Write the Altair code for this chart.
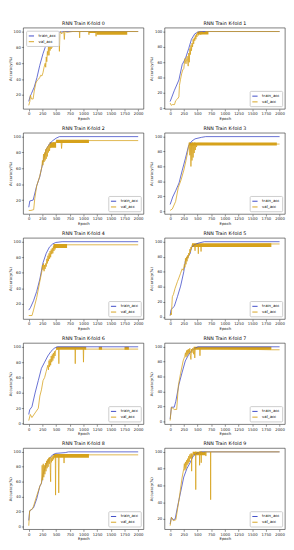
import altair as alt
import pandas as pd

# ---------------- data ----------------
tr0_x = [0, 25, 50, 100, 150, 200, 260, 300, 363, 430, 478, 550, 650, 2000]
tr0_y = [12, 18, 22, 30, 42, 57, 72, 80, 86, 92, 97, 99, 100, 100]
va0_x = [0, 20, 30, 50, 80, 100, 130, 150, 180, 200,
         220, 240, 260, 280, 300, 310, 320, 330, 340, 350,
         360, 370, 380, 390, 400, 410, 420, 430, 440, 450,
         460, 470, 480, 490, 500, 510, 520, 530, 540, 550,
         560, 570, 580, 600, 640, 650, 660, 700, 800, 900,
         925, 930, 935, 1000, 1095, 1100, 1105, 1200, 1225, 1230,
         1235, 1800, 2000]
va0_y = [7, 12, 20, 15, 15, 25, 35, 38, 40, 42,
         45, 44, 48, 55, 60, 55, 68, 62, 75, 70,
         82, 70, 86, 76, 88, 78, 92, 80, 93, 82,
         95, 85, 96, 88, 97, 92, 98, 95, 99, 96,
         75, 98, 100, 97, 100, 90, 100, 99, 100, 100,
         100, 92, 100, 100, 100, 96, 100, 100, 100, 94,
         100, 100, 100]
bd0 = [[1100, 1240, 98, 100], [1240, 1800, 96, 100]]

tr1_x = [0, 75, 160, 220, 280, 340, 390, 450, 500, 550, 2000]
tr1_y = [9, 23, 37, 57, 65, 78, 90, 97, 99, 100, 100]
va1_x = [0, 20, 40, 80, 100, 130, 160, 170, 190, 210,
         230, 250, 270, 290, 310, 330, 340, 350, 360, 370,
         380, 390, 400, 410, 420, 430, 440, 450, 460, 470,
         480, 490, 500, 520, 540, 560, 580, 600, 650, 700,
         2000]
va1_y = [7, 4, 5, 5, 10, 12, 15, 30, 38, 45,
         50, 52, 65, 58, 68, 55, 72, 60, 78, 70,
         82, 75, 85, 80, 90, 84, 92, 88, 95, 90,
         97, 93, 99, 95, 100, 96, 100, 97, 100, 100,
         100]
bd1 = [[500, 700, 96, 100]]

tr2_x = [0, 20, 80, 145, 200, 260, 320, 380, 440, 500, 560, 2000]
tr2_y = [11, 19, 20, 38, 49, 68, 84, 91, 95, 98, 100, 100]
va2_x = [0, 40, 90, 110, 145, 200, 240, 250, 260, 270,
         280, 290, 300, 310, 320, 330, 340, 350, 360, 370,
         380, 390, 400, 420, 440, 460, 480, 500, 590, 600,
         610, 1100, 2000]
va2_y = [7, 7, 8, 22, 38, 50, 62, 70, 64, 78,
         68, 80, 70, 84, 72, 86, 75, 88, 80, 90,
         82, 90, 86, 92, 88, 93, 90, 94, 94, 85,
         94, 95, 95]
bd2 = [[380, 500, 86, 93], [500, 1100, 92, 96]]

tr3_x = [0, 47, 105, 163, 222, 280, 338, 397, 455, 570, 650, 2000]
tr3_y = [9, 19, 28, 38, 55, 71, 88, 94, 97, 99, 100, 100]
va3_x = [0, 40, 100, 150, 200, 250, 290, 320, 340, 350,
         360, 370, 380, 390, 400, 410, 420, 430, 440, 450,
         460, 470, 480, 500, 1950, 2000]
va3_y = [1, 3, 13, 32, 42, 55, 68, 79, 88, 92,
         75, 91, 60, 90, 68, 92, 72, 90, 78, 92,
         82, 91, 86, 91, 90, 90]
bd3 = [[350, 1950, 88, 92]]

tr4_x = [0, 30, 87, 145, 203, 261, 319, 377, 435, 493, 610, 2000]
tr4_y = [12, 15, 24, 36, 52, 73, 85, 93, 97, 99, 100, 100]
va4_x = [0, 60, 87, 145, 200, 240, 250, 260, 270, 280,
         290, 300, 310, 320, 330, 340, 350, 360, 370, 380,
         390, 400, 410, 420, 430, 440, 450, 460, 470, 480,
         490, 500, 700, 2000]
va4_y = [5, 5, 12, 28, 48, 62, 70, 64, 72, 62,
         70, 65, 72, 68, 78, 72, 82, 75, 85, 78,
         88, 80, 90, 84, 92, 85, 94, 88, 95, 90,
         96, 93, 96, 96]
bd4 = [[450, 700, 92, 97]]

tr5_x = [0, 17, 75, 133, 191, 249, 277, 306, 364, 393, 451, 509, 624, 2000]
tr5_y = [2, 10, 14, 27, 41, 60, 74, 78, 84, 93, 96, 98, 100, 100]
va5_x = [0, 15, 23, 40, 60, 90, 133, 160, 190, 220,
         240, 260, 270, 280, 290, 300, 310, 320, 330, 340,
         350, 360, 370, 380, 390, 400, 450, 455, 460, 510,
         515, 520, 560, 565, 570, 1850, 2000]
va5_y = [2, 5, 3, 27, 30, 38, 47, 52, 58, 64,
         62, 70, 66, 78, 70, 80, 74, 82, 78, 85,
         82, 90, 86, 93, 90, 96, 95, 88, 96, 96,
         84, 96, 96, 87, 96, 97, 97]
bd5 = [[400, 1850, 93, 98]]

tr6_x = [0, 17, 58, 116, 174, 232, 290, 348, 406, 464, 522, 2000]
tr6_y = [12, 18, 22, 40, 56, 72, 80, 88, 94, 98, 100, 100]
va6_x = [0, 29, 58, 116, 174, 203, 232, 261, 290, 319,
         348, 360, 370, 380, 390, 400, 410, 420, 430, 440,
         450, 460, 470, 480, 490, 500, 545, 550, 555, 845,
         850, 855, 995, 1000, 1005, 1050, 2000]
va6_y = [4, 12, 8, 14, 20, 36, 44, 56, 60, 68,
         76, 70, 82, 74, 84, 76, 88, 80, 90, 82,
         92, 85, 94, 88, 95, 96, 98, 78, 98, 98,
         78, 98, 98, 80, 98, 97, 97]
bd6 = [[500, 1050, 96, 100], [1280, 1340, 96, 100], [1750, 1830, 96, 100]]

tr7_x = [0, 23, 75, 104, 162, 220, 277, 335, 393, 451, 509, 2000]
tr7_y = [3, 19, 19, 27, 50, 66, 81, 89, 95, 98, 100, 100]
va7_x = [0, 23, 75, 120, 150, 190, 237, 266, 280, 290,
         300, 310, 320, 330, 340, 350, 360, 370, 380, 390,
         400, 410, 420, 430, 440, 450, 460, 540, 545, 550,
         1850, 2000]
va7_y = [1, 19, 16, 16, 48, 64, 81, 87, 92, 86,
         95, 88, 96, 90, 97, 92, 98, 88, 83, 97,
         92, 98, 97, 90, 99, 85, 98, 98, 88, 98,
         96, 96]
bd7 = [[430, 1850, 96, 100]]

tr8_x = [0, 17, 58, 87, 145, 203, 232, 261, 319, 377, 435, 493, 667, 725, 2000]
tr8_y = [8, 21, 23, 25, 37, 54, 58, 70, 83, 91, 96, 98, 99, 100, 100]
va8_x = [0, 17, 58, 87, 145, 203, 232, 245, 255, 265,
         275, 285, 295, 305, 315, 325, 335, 345, 355, 365,
         375, 385, 395, 400, 405, 415, 425, 435, 445, 455,
         465, 485, 490, 495, 540, 548, 556, 600, 640, 645,
         650, 700, 1100, 2000]
va8_y = [1, 21, 23, 27, 41, 54, 58, 82, 62, 84,
         66, 82, 70, 85, 74, 88, 78, 90, 80, 92,
         84, 93, 72, 60, 92, 86, 94, 88, 95, 90,
         95, 95, 42, 95, 95, 45, 95, 95, 95, 85,
         95, 95, 96, 96]
bd8 = [[450, 1100, 92, 97]]

tr9_x = [0, 23, 58, 92, 133, 191, 249, 306, 364, 422, 480, 566, 2000]
tr9_y = [14, 22, 19, 20, 34, 52, 70, 80, 87, 95, 98, 100, 100]
va9_x = [0, 23, 58, 104, 162, 220, 249, 260, 270, 280,
         290, 300, 310, 320, 330, 340, 350, 360, 370, 380,
         390, 393, 396, 410, 420, 440, 465, 468, 471, 500,
         535, 538, 541, 565, 568, 571, 600, 650, 653, 656,
         737, 740, 743, 2000]
va9_y = [12, 22, 18, 19, 43, 70, 80, 86, 78, 88,
         80, 90, 84, 92, 86, 95, 88, 97, 92, 98,
         96, 77, 98, 94, 100, 98, 100, 55, 100, 98,
         100, 84, 100, 100, 87, 100, 99, 100, 95, 100,
         100, 43, 100, 100]
bd9 = [[420, 650, 96, 100]]

folds = [
    (tr0_x, tr0_y, va0_x, va0_y, bd0),
    (tr1_x, tr1_y, va1_x, va1_y, bd1),
    (tr2_x, tr2_y, va2_x, va2_y, bd2),
    (tr3_x, tr3_y, va3_x, va3_y, bd3),
    (tr4_x, tr4_y, va4_x, va4_y, bd4),
    (tr5_x, tr5_y, va5_x, va5_y, bd5),
    (tr6_x, tr6_y, va6_x, va6_y, bd6),
    (tr7_x, tr7_y, va7_x, va7_y, bd7),
    (tr8_x, tr8_y, va8_x, va8_y, bd8),
    (tr9_x, tr9_y, va9_x, va9_y, bd9),
]
series_names = ["train_acc", "val_acc"]
series_colors = ["#3a46c6", "#d6a21c"]
x_ticks = [0, 250, 500, 750, 1000, 1250, 1500, 1750, 2000]
y_ticks = [0, 20, 40, 60, 80, 100]

FONT = "DejaVu Sans"
W, H = 126, 85


def panel(k):
    tx, ty, vx, vy, bands = folds[k]
    assert len(tx) == len(ty) and len(vx) == len(vy)
    rows = []
    for i, (x, y) in enumerate(zip(tx, ty)):
        rows.append({"epoch": x, "acc": y, "series": "train_acc", "o": i})
    for i, (x, y) in enumerate(zip(vx, vy)):
        rows.append({"epoch": x, "acc": y, "series": "val_acc", "o": i})
    df = pd.DataFrame(rows)
    bdf = pd.DataFrame(bands, columns=["x0", "x1", "lo", "hi"])
    dmin = min(ty + vy)
    ydom = [dmin - 0.05 * (100 - dmin), 100 + 0.05 * (100 - dmin)]
    xsc = alt.Scale(domain=[-100, 2100], nice=False, zero=False)
    ysc = alt.Scale(domain=ydom, nice=False, zero=False)
    legend_orient = "top-left" if k == 0 else "bottom-right"
    xaxis = alt.Axis(values=x_ticks, format="d", labelOverlap=False, labelFlush=False)
    yaxis = alt.Axis(values=y_ticks, format="d", labelOverlap=False, labelFlush=False)
    lines = alt.Chart(df).mark_line(strokeWidth=0.8, clip=True).encode(
        x=alt.X("epoch:Q", scale=xsc, title="Epoch", axis=xaxis),
        y=alt.Y("acc:Q", scale=ysc, title="Accuracy(%)", axis=yaxis),
        color=alt.Color("series:N",
                        scale=alt.Scale(domain=series_names, range=series_colors),
                        legend=alt.Legend(title=None, orient=legend_orient,
                                          symbolType="stroke", symbolStrokeWidth=1,
                                          symbolSize=30, labelFontSize=4,
                                          labelFont=FONT, rowPadding=0,
                                          padding=2, offset=3,
                                          fillColor="white", strokeColor="#cccccc",
                                          cornerRadius=1)),
        order="o:Q",
        detail="series:N",
    )
    rects = alt.Chart(bdf).mark_rect(color=series_colors[1], clip=True).encode(
        x=alt.X("x0:Q", scale=xsc, title="Epoch", axis=xaxis), x2="x1:Q",
        y=alt.Y("lo:Q", scale=ysc, title="Accuracy(%)", axis=yaxis), y2="hi:Q",
    )
    return alt.layer(rects, lines).properties(
        width=W, height=H,
        title=alt.TitleParams(f"RNN Train K-fold {k}", fontSize=5, font=FONT,
                              fontWeight="normal", offset=2),
    )


rows = []
for r in range(5):
    rows.append(alt.hconcat(panel(2 * r), panel(2 * r + 1), spacing=5)
                .resolve_legend(color="independent"))

chart = alt.vconcat(*rows, spacing=4).resolve_legend(color="independent").configure_view(
    stroke="#222222", strokeWidth=0.6
).configure_axis(
    labelFontSize=4, titleFontSize=4, labelFont=FONT, titleFont=FONT,
    titleFontWeight="normal", tickSize=2, labelPadding=1, titlePadding=1,
    domain=False, grid=False, tickColor="#222222", labelColor="#222222",
    titleColor="#222222", tickWidth=0.5,
).properties(padding=0)

chart.save("out.html", embed_options={"renderer": "svg", "actions": False})
